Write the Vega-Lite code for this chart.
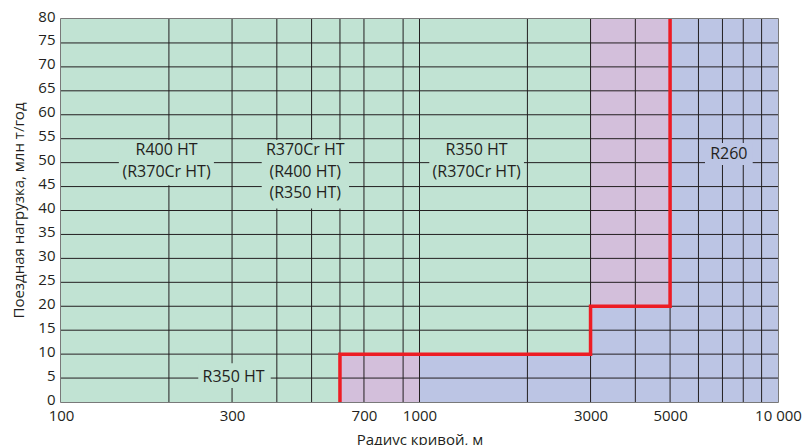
{
  "$schema": "https://vega.github.io/schema/vega-lite/v6.json",
  "width": 717,
  "height": 383,
  "autosize": {"type": "none"},
  "padding": {"left": 61, "top": 19, "right": 26, "bottom": 43},
  "background": "white",
  "config": {
    "view": {"stroke": "#4d4d4d", "strokeWidth": 1.5},
    "font": "Open Sans",
    "axis": {"grid": false, "ticks": false, "domain": false, "labelColor": "#231f20", "titleColor": "#231f20", "labelFontSize": 15, "titleFontSize": 15, "titleFontWeight": "normal", "labelFont": "Open Sans", "titleFont": "Open Sans", "labelOverlap": false, "labelFlush": false},
    "axisX": {"labelPadding": 6, "titleBaseline": "alphabetic", "titleY": 42},
    "axisY": {"labelPadding": 6, "labelOffset": -3, "titleX": -43, "titleY": 191, "titleAngle": -90, "titleAlign": "center", "titleBaseline": "middle"}
  },
  "datasets": {
    "regions": [
      {"x0": 100, "x1": 3000, "y0": 10, "y1": 80, "zone": "green"},
      {"x0": 100, "x1": 600, "y0": 0, "y1": 10, "zone": "green"},
      {"x0": 600, "x1": 1000, "y0": 0, "y1": 10, "zone": "pink"},
      {"x0": 3000, "x1": 5000, "y0": 20, "y1": 80, "zone": "pink"},
      {"x0": 1000, "x1": 3000, "y0": 0, "y1": 10, "zone": "blue"},
      {"x0": 3000, "x1": 5000, "y0": 0, "y1": 20, "zone": "blue"},
      {"x0": 5000, "x1": 10000, "y0": 0, "y1": 80, "zone": "blue"}
    ],
    "gridx": [
      {"x": 200}, {"x": 300}, {"x": 400}, {"x": 500}, {"x": 600}, {"x": 700}, {"x": 900}, {"x": 1000},
      {"x": 2000}, {"x": 3000}, {"x": 4000}, {"x": 5000}, {"x": 6000}, {"x": 7000}, {"x": 8000}, {"x": 9000}
    ],
    "gridy": [
      {"y": 5}, {"y": 10}, {"y": 15}, {"y": 20}, {"y": 25}, {"y": 30}, {"y": 35}, {"y": 40},
      {"y": 45}, {"y": 50}, {"y": 55}, {"y": 60}, {"y": 65}, {"y": 70}, {"y": 75}
    ],
    "boxes": [
      {"x0": 145, "x1": 267, "y0": 45.3, "y1": 54.7, "zone": "green"},
      {"x0": 363, "x1": 636, "y0": 40.4, "y1": 54.7, "zone": "green"},
      {"x0": 1065, "x1": 1956, "y0": 45.3, "y1": 54.7, "zone": "green"},
      {"x0": 6257, "x1": 8500, "y0": 49.5, "y1": 54.1, "zone": "blue"},
      {"x0": 241.5, "x1": 384.6, "y0": 2.9, "y1": 8.1, "zone": "green"}
    ],
    "labels": [
      {"x": 197, "y": 52.6, "label": ["R400 HT", "(R370Cr HT)"]},
      {"x": 480, "y": 52.6, "label": ["R370Cr HT", "(R400 HT)", "(R350 HT)"]},
      {"x": 1443, "y": 52.6, "label": ["R350 HT", "(R370Cr HT)"]},
      {"x": 7290, "y": 51.8, "label": ["R260"]},
      {"x": 303, "y": 5.2, "label": ["R350 HT"]}
    ],
    "limit": [
      {"x": 600, "y": 0, "k": 1},
      {"x": 600, "y": 10, "k": 2},
      {"x": 3000, "y": 10, "k": 3},
      {"x": 3000, "y": 20, "k": 4},
      {"x": 5000, "y": 20, "k": 5},
      {"x": 5000, "y": 80, "k": 6}
    ]
  },
  "layer": [
    {
      "data": {"name": "regions"},
      "mark": {"type": "rect"},
      "encoding": {
        "x": {"field": "x0", "type": "quantitative", "scale": {"type": "log", "domain": [100, 10000], "nice": false},
          "axis": {"values": [100, 300, 700, 1000, 3000, 5000, 10000], "labelExpr": "datum.value == 10000 ? '10 000' : format(datum.value, 'd')", "title": "Радиус кривой, м"}},
        "x2": {"field": "x1"},
        "y": {"field": "y0", "type": "quantitative", "scale": {"domain": [0, 80], "nice": false, "zero": true},
          "axis": {"values": [0, 5, 10, 15, 20, 25, 30, 35, 40, 45, 50, 55, 60, 65, 70, 75, 80], "format": "d", "title": "Поездная нагрузка, млн т/год"}},
        "y2": {"field": "y1"},
        "color": {"field": "zone", "type": "nominal", "scale": {"domain": ["green", "pink", "blue"], "range": ["#c1e3d3", "#d3bfdb", "#bcc5e4"]}, "legend": null}
      }
    },
    {
      "data": {"name": "gridx"},
      "mark": {"type": "rule", "color": "#231f20", "strokeWidth": 1},
      "encoding": {
        "x": {"field": "x", "type": "quantitative", "scale": {"type": "log", "domain": [100, 10000], "nice": false},
          "axis": {"values": [100, 300, 700, 1000, 3000, 5000, 10000], "labelExpr": "datum.value == 10000 ? '10 000' : format(datum.value, 'd')", "title": "Радиус кривой, м"}}
      }
    },
    {
      "data": {"name": "gridy"},
      "mark": {"type": "rule", "color": "#231f20", "strokeWidth": 1},
      "encoding": {
        "y": {"field": "y", "type": "quantitative", "scale": {"domain": [0, 80], "nice": false},
          "axis": {"values": [0, 5, 10, 15, 20, 25, 30, 35, 40, 45, 50, 55, 60, 65, 70, 75, 80], "format": "d", "title": "Поездная нагрузка, млн т/год"}}
      }
    },
    {
      "data": {"name": "boxes"},
      "mark": {"type": "rect"},
      "encoding": {
        "x": {"field": "x0", "type": "quantitative", "scale": {"type": "log", "domain": [100, 10000], "nice": false},
          "axis": {"values": [100, 300, 700, 1000, 3000, 5000, 10000], "labelExpr": "datum.value == 10000 ? '10 000' : format(datum.value, 'd')", "title": "Радиус кривой, м"}},
        "x2": {"field": "x1"},
        "y": {"field": "y0", "type": "quantitative", "scale": {"domain": [0, 80], "nice": false},
          "axis": {"values": [0, 5, 10, 15, 20, 25, 30, 35, 40, 45, 50, 55, 60, 65, 70, 75, 80], "format": "d", "title": "Поездная нагрузка, млн т/год"}},
        "y2": {"field": "y1"},
        "color": {"field": "zone", "type": "nominal", "scale": {"domain": ["green", "pink", "blue"], "range": ["#c1e3d3", "#d3bfdb", "#bcc5e4"]}, "legend": null}
      }
    },
    {
      "data": {"name": "labels"},
      "mark": {"type": "text", "font": "Open Sans", "fontSize": 16, "color": "#231f20", "align": "center", "baseline": "middle", "lineHeight": 21.5},
      "encoding": {
        "x": {"field": "x", "type": "quantitative", "scale": {"type": "log", "domain": [100, 10000], "nice": false},
          "axis": {"values": [100, 300, 700, 1000, 3000, 5000, 10000], "labelExpr": "datum.value == 10000 ? '10 000' : format(datum.value, 'd')", "title": "Радиус кривой, м"}},
        "y": {"field": "y", "type": "quantitative", "scale": {"domain": [0, 80], "nice": false},
          "axis": {"values": [0, 5, 10, 15, 20, 25, 30, 35, 40, 45, 50, 55, 60, 65, 70, 75, 80], "format": "d", "title": "Поездная нагрузка, млн т/год"}},
        "text": {"field": "label"}
      }
    },
    {
      "data": {"name": "limit"},
      "mark": {"type": "line", "color": "#ed1c24", "strokeWidth": 3.5, "strokeJoin": "miter", "strokeCap": "butt"},
      "encoding": {
        "x": {"field": "x", "type": "quantitative", "scale": {"type": "log", "domain": [100, 10000], "nice": false},
          "axis": {"values": [100, 300, 700, 1000, 3000, 5000, 10000], "labelExpr": "datum.value == 10000 ? '10 000' : format(datum.value, 'd')", "title": "Радиус кривой, м"}},
        "y": {"field": "y", "type": "quantitative", "scale": {"domain": [0, 80], "nice": false},
          "axis": {"values": [0, 5, 10, 15, 20, 25, 30, 35, 40, 45, 50, 55, 60, 65, 70, 75, 80], "format": "d", "title": "Поездная нагрузка, млн т/год"}},
        "order": {"field": "k", "type": "quantitative"}
      }
    }
  ]
}
